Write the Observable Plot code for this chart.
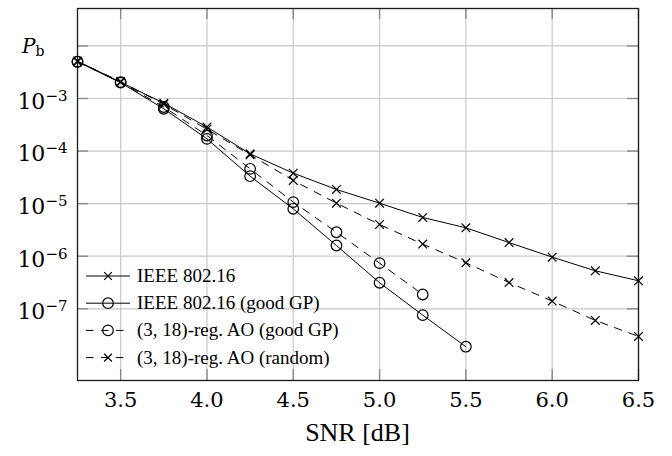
<!DOCTYPE html>
<html>
<head>
<meta charset="utf-8">
<script src="https://cdn.jsdelivr.net/npm/d3@7"></script>
<script src="https://cdn.jsdelivr.net/npm/@observablehq/plot@0.6"></script>
<style>
  body { margin: 0; background: white; }
  svg { display: block; }
</style>
</head>
<body>
<div id="chart"></div>
<script>
// ---- data ----
const snr = [3.25, 3.5, 3.75, 4.0, 4.25, 4.5, 4.75, 5.0, 5.25, 5.5, 5.75, 6.0, 6.25, 6.5];
const seriesNames = [
  "IEEE 802.16",
  "IEEE 802.16 (good GP)",
  "(3, 18)-reg. AO (good GP)",
  "(3, 18)-reg. AO (random)"
];
const ieee       = [5.16e-3, 2.04e-3, 8.14e-4, 2.87e-4, 8.87e-5, 3.8e-5, 1.86e-5, 1.02e-5, 5.46e-6, 3.47e-6, 1.82e-6, 9.6e-7, 5.28e-7, 3.41e-7];
const ieeeGood   = [5.0e-3, 2.0e-3, 6.37e-4, 1.71e-4, 3.33e-5, 7.98e-6, 1.6e-6, 3.13e-7, 7.57e-8, 1.9e-8];
const aoGood     = [5.0e-3, 2.05e-3, 6.9e-4, 1.98e-4, 4.6e-5, 1.07e-5, 2.86e-6, 7.38e-7, 1.87e-7];
const aoRandom   = [5.0e-3, 2.1e-3, 7.8e-4, 2.6e-4, 8.5e-5, 2.76e-5, 1.02e-5, 4.02e-6, 1.7e-6, 7.5e-7, 3.16e-7, 1.4e-7, 6.0e-8, 2.98e-8];
const seriesValues = [ieee, ieeeGood, aoGood, aoRandom];
const seriesDash   = [null, null, "7.5,7.5", "7.5,7.5"];
const seriesSymbol = ["times", "circle", "circle", "times"];

const xTicks = [3.5, 4.0, 4.5, 5.0, 5.5, 6.0, 6.5];
const yGridTicks = [1e-2, 1e-3, 1e-4, 1e-5, 1e-6, 1e-7];
const yLabelTicks = [1e-3, 1e-4, 1e-5, 1e-6, 1e-7];
const yAxisLabel = ["P", "b"];
const xAxisLabel = "SNR [dB]";

// ---- build rows ----
const rows = [];
seriesValues.forEach((vals, si) => {
  vals.forEach((v, i) => rows.push({x: snr[i], y: v, s: seriesNames[si]}));
});

const W = 672, H = 456;
const mL = 77, mR = 34, mT = 8, mB = 76;
const innerH = H - mT - mB;
const tickLen = 11;
const gridStyle = {stroke: "#c9c9c9", strokeOpacity: 1, strokeWidth: 1.2};
const tickStyle = {stroke: "#8a8a8a", strokeOpacity: 1, strokeWidth: 1.4};
const rTimes = 4, rCircle = 5.3;

const lineMarks = seriesNames.map((name, si) =>
  Plot.line(rows.filter(d => d.s === name), {
    x: "x", y: "y", stroke: "black", strokeWidth: 1,
    strokeDasharray: seriesDash[si] || undefined
  })
);
const dotMarks = seriesNames.map((name, si) =>
  Plot.dot(rows.filter(d => d.s === name), {
    x: "x", y: "y", symbol: seriesSymbol[si],
    r: seriesSymbol[si] === "times" ? rTimes : rCircle,
    stroke: "black", strokeWidth: 1.2, fill: "none"
  })
);

const plot = Plot.plot({
  width: W, height: H,
  marginLeft: mL, marginRight: mR, marginTop: mT, marginBottom: mB,
  style: {fontFamily: "'DejaVu Serif', serif", background: "white", color: "black"},
  x: {domain: [3.25, 6.5]},
  y: {type: "log", domain: [Math.pow(10, -8.364), Math.pow(10, -1.288)]},
  marks: [
    Plot.gridX(xTicks, gridStyle),
    Plot.gridY(yGridTicks, gridStyle),
    // inward ticks on all four sides
    Plot.ruleX(xTicks, {...tickStyle, insetTop: innerH - tickLen}),
    Plot.ruleX(xTicks, {...tickStyle, insetBottom: innerH - tickLen}),
    Plot.ruleY(yGridTicks, {...tickStyle, insetRight: (W - mL - mR) - tickLen}),
    Plot.ruleY(yGridTicks, {...tickStyle, insetLeft: (W - mL - mR) - tickLen}),
    Plot.axisX(xTicks, {tickSize: 0, tickPadding: 12, tickFormat: d => d.toFixed(1), fontSize: 21, label: null}),
    Plot.axisY(yLabelTicks, {tickSize: 0, tickPadding: 10, dy: 3.3, tickFormat: d => "10^" + Math.round(Math.log10(d)), fontSize: 22, label: null}),
    Plot.frame({stroke: "#1a1a1a", strokeWidth: 1.3}),
    ...lineMarks,
    ...dotMarks
  ]
});

document.getElementById("chart").appendChild(plot);
const svg = d3.select(plot);

// superscript exponents on y tick labels
svg.selectAll('g[aria-label="y-axis tick label"] text').each(function() {
  const t = d3.select(this);
  const parts = t.text().split("^");
  t.text(null);
  t.append("tspan").text(parts[0]);
  t.append("tspan").attr("dy", -8).attr("font-size", 15).text(parts[1].replace("-", "\u2212"));
});

// y axis label P_b
const pl = svg.append("text")
  .attr("x", 22).attr("y", 53).attr("text-anchor", "start")
  .attr("font-family", "'DejaVu Serif', serif").attr("font-size", 20).attr("fill", "black");
pl.append("tspan").attr("font-style", "italic").text(yAxisLabel[0]);
pl.append("tspan").attr("dy", 3).attr("font-size", 14).text(yAxisLabel[1]);

// x axis label
svg.append("text")
  .attr("x", mL + (W - mL - mR) / 2).attr("y", 441)
  .attr("text-anchor", "middle")
  .attr("font-family", "'Liberation Serif', serif").attr("font-size", 26).attr("fill", "black")
  .text(xAxisLabel);

// legend (no box, drawn over the grid)
const lg = svg.append("g").attr("font-family", "'Liberation Serif', serif").attr("font-size", 19)
  .attr("text-anchor", "start");
const rowY = [276, 303.2, 330.4, 357.6];
seriesNames.forEach((name, si) => {
  const y = rowY[si];
  lg.append("line").attr("x1", 86).attr("x2", 130).attr("y1", y).attr("y2", y)
    .attr("stroke", "black").attr("stroke-width", 1)
    .attr("stroke-dasharray", seriesDash[si] || null);
  if (seriesSymbol[si] === "circle") {
    lg.append("circle").attr("cx", 108).attr("cy", y).attr("r", rCircle)
      .attr("fill", "none").attr("stroke", "black").attr("stroke-width", 1.2);
  } else {
    lg.append("path").attr("transform", `translate(108,${y})`)
      .attr("d", d3.symbol(d3.symbolTimes, Math.PI * 3.6 * 3.6)())
      .attr("fill", "none").attr("stroke", "black").attr("stroke-width", 1.2);
  }
  lg.append("text").attr("x", 137).attr("y", y + 6).attr("text-anchor", "start")
    .attr("fill", "black").text(name);
});
</script>
</body>
</html>
